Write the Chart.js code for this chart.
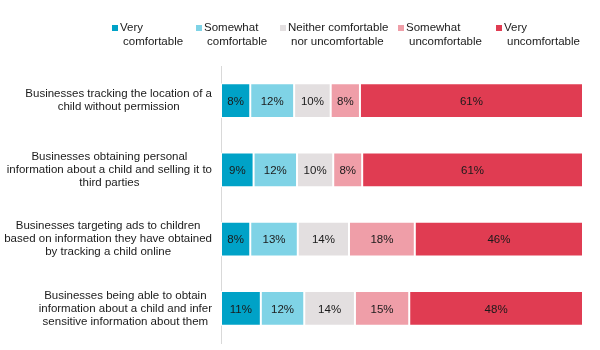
<!DOCTYPE html>
<html>
<head>
<meta charset="utf-8">
<script src="https://cdn.jsdelivr.net/npm/chart.js@4"></script>
<style>
  html, body { margin: 0; padding: 0; background: #fff; }
  #wrap { width: 600px; height: 350px; position: relative; }
</style>
</head>
<body>
<div id="wrap"><canvas id="chart" width="600" height="350"></canvas></div>
<script>
// Categories (each entry is the wrapped lines of the label)
const categories = [
  ["Businesses tracking the location of a", "child without permission"],
  ["Businesses obtaining personal", "information about a child and selling it to", "third parties"],
  ["Businesses targeting ads to children", "based on information they have obtained", "by tracking a child online"],
  ["Businesses being able to obtain", "information about a child and infer", "sensitive information about them"],
];

// Series names (legend, wrapped)
const seriesNames = [
  ["Very", "comfortable"],
  ["Somewhat", "comfortable"],
  ["Neither comfortable", "nor uncomfortable"],
  ["Somewhat", "uncomfortable"],
  ["Very", "uncomfortable"],
];

// Values in percent, as labelled
const veryComfortable = [8, 9, 8, 11];
const somewhatComfortable = [12, 12, 13, 12];
const neither = [10, 10, 14, 14];
const somewhatUncomfortable = [8, 8, 18, 15];
const veryUncomfortable = [61, 61, 46, 48];

const seriesValues = [
  veryComfortable,
  somewhatComfortable,
  neither,
  somewhatUncomfortable,
  veryUncomfortable,
];

// Styles
const seriesColors = ["#00a2c7", "#7fd3e6", "#e3dfe0", "#ef9ea8", "#e03c52"];
const legendX = [112, 196, 280, 398, 496];
const FONT = "11.5px 'Liberation Sans', Arial, sans-serif";
const TEXT_COLOR = "#1a1a1a";

// Row totals so every bar fills 100% (like a 100% stacked bar)
const rowTotals = categories.map((c, i) =>
  seriesValues.reduce((sum, s) => sum + s[i], 0)
);

const datasets = seriesValues.map((values, k) => ({
  label: seriesNames[k].join(" "),
  data: values.map((v, i) => (v / rowTotals[i]) * 100),
  raw: values,
  backgroundColor: seriesColors[k],
  borderColor: "#ffffff",
  borderWidth: 1,
  borderSkipped: false,
  barPercentage: 0.5,
  categoryPercentage: 1,
}));

// Draw the two-line legend at the top
const legendPlugin = {
  id: "customLegend",
  afterDraw(chart) {
    const ctx = chart.ctx;
    ctx.save();
    ctx.font = FONT;
    ctx.fillStyle = TEXT_COLOR;
    ctx.textBaseline = "middle";
    ctx.textAlign = "left";
    seriesNames.forEach((lines, k) => {
      const x = legendX[k];
      ctx.fillStyle = seriesColors[k];
      ctx.fillRect(x, 25, 6, 6);
      ctx.fillStyle = TEXT_COLOR;
      lines.forEach((line, j) => {
        ctx.fillText(line, x + 8 + (j > 0 ? 3 : 0), 28 + j * 14);
      });
    });
    ctx.restore();
  },
};

// Category labels: block right aligned, lines centred inside the block
const categoryLabelPlugin = {
  id: "categoryLabels",
  afterDraw(chart) {
    const ctx = chart.ctx;
    const yScale = chart.scales.y;
    const right = 212;
    const lineH = 13;
    ctx.save();
    ctx.font = FONT;
    ctx.fillStyle = TEXT_COLOR;
    ctx.textBaseline = "middle";
    ctx.textAlign = "center";
    categories.forEach((lines, i) => {
      const maxW = Math.max(...lines.map((l) => ctx.measureText(l).width));
      const cx = right - maxW / 2;
      const cy = yScale.getPixelForValue(i);
      const startY = cy - ((lines.length - 1) * lineH) / 2;
      lines.forEach((line, j) => {
        ctx.fillText(line, cx, startY + j * lineH);
      });
    });
    ctx.restore();
  },
};

// Percentage labels inside each segment
const valueLabelPlugin = {
  id: "valueLabels",
  afterDatasetsDraw(chart) {
    const ctx = chart.ctx;
    ctx.save();
    ctx.font = FONT;
    ctx.fillStyle = TEXT_COLOR;
    ctx.textBaseline = "middle";
    ctx.textAlign = "center";
    chart.data.datasets.forEach((ds, k) => {
      const meta = chart.getDatasetMeta(k);
      meta.data.forEach((bar, i) => {
        const cx = (bar.x + bar.base) / 2;
        ctx.fillText(ds.raw[i] + "%", cx, bar.y + 1);
      });
    });
    ctx.restore();
  },
};

const ctx = document.getElementById("chart").getContext("2d");
new Chart(ctx, {
  type: "bar",
  data: {
    labels: categories.map((c) => c.join(" ")),
    datasets: datasets,
  },
  options: {
    indexAxis: "y",
    responsive: false,
    animation: false,
    layout: {
      padding: { left: 221, right: 17, top: 66, bottom: 7 },
    },
    plugins: {
      legend: { display: false },
      tooltip: { enabled: false },
    },
    scales: {
      x: {
        stacked: true,
        min: 0,
        max: 100,
        display: false,
      },
      y: {
        stacked: true,
        ticks: { display: false },
        grid: { display: false, drawTicks: false },
        border: { display: true, color: "#d9d9d9", width: 1 },
      },
    },
  },
  plugins: [legendPlugin, categoryLabelPlugin, valueLabelPlugin],
});
</script>
</body>
</html>
